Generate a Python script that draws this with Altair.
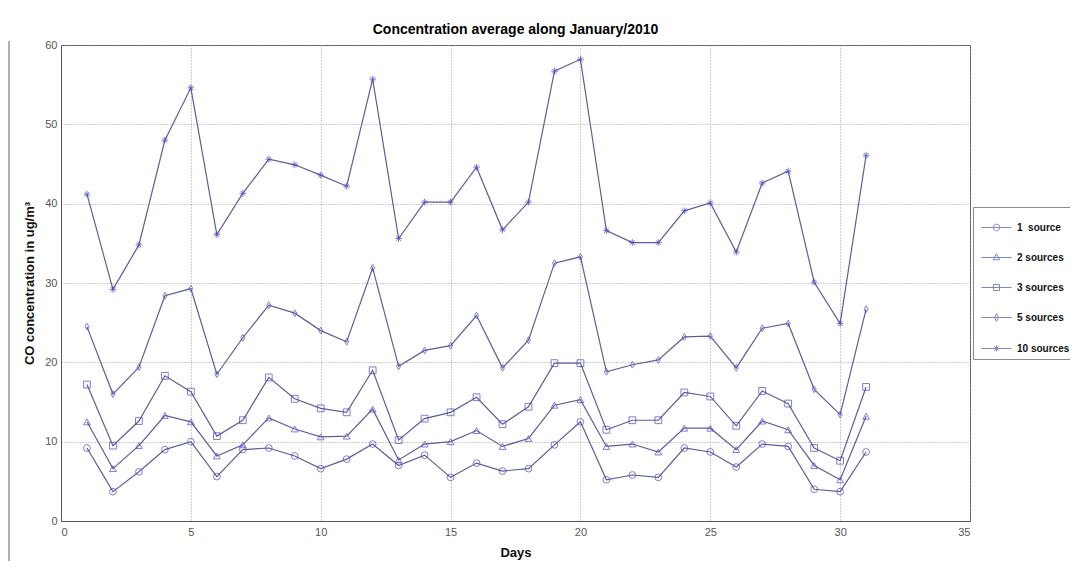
import altair as alt
import pandas as pd

days = list(range(1, 32))
series_names = ["1\u00a0\u00a0source", "2 sources", "3 sources", "5 sources", "10 sources"]

s1 = [9.2, 3.7, 6.2, 9.0, 10.0, 5.6, 9.0, 9.2, 8.2, 6.6, 7.8, 9.7, 7.0, 8.3, 5.5, 7.3,
      6.3, 6.6, 9.6, 12.5, 5.2, 5.8, 5.5, 9.2, 8.7, 6.8, 9.7, 9.4, 4.0, 3.7, 8.7]
s2 = [12.5, 6.6, 9.5, 13.3, 12.5, 8.2, 9.6, 13.0, 11.6, 10.6, 10.7, 14.1, 7.7, 9.7, 10.0, 11.4,
      9.4, 10.4, 14.6, 15.3, 9.4, 9.7, 8.7, 11.7, 11.7, 9.0, 12.6, 11.5, 7.0, 5.2, 13.2]
s3 = [17.2, 9.5, 12.6, 18.3, 16.3, 10.7, 12.7, 18.1, 15.4, 14.2, 13.7, 19.0, 10.2, 12.9, 13.7, 15.6,
      12.2, 14.4, 19.9, 19.9, 11.5, 12.7, 12.7, 16.2, 15.7, 12.0, 16.4, 14.8, 9.2, 7.6, 16.9]
s5 = [24.5, 16.0, 19.4, 28.4, 29.3, 18.5, 23.1, 27.2, 26.2, 24.0, 22.6, 31.9, 19.5, 21.5, 22.1, 25.9,
      19.3, 22.8, 32.5, 33.3, 18.8, 19.7, 20.3, 23.2, 23.3, 19.3, 24.3, 24.9, 16.6, 13.4, 26.7]
s10 = [41.2, 29.2, 34.8, 48.0, 54.6, 36.1, 41.3, 45.6, 44.9, 43.6, 42.2, 55.7, 35.6, 40.2, 40.2, 44.6,
       36.7, 40.2, 56.7, 58.2, 36.6, 35.1, 35.1, 39.1, 40.1, 33.9, 42.6, 44.1, 30.1, 24.9, 46.1]

x_ticks = [0, 5, 10, 15, 20, 25, 30, 35]
y_ticks = [0, 10, 20, 30, 40, 50, 60]

rows = []
for name, vals in zip(series_names, [s1, s2, s3, s5, s10]):
    for d, v in zip(days, vals):
        rows.append({"day": d, "value": v, "series": name})
df = pd.DataFrame(rows)

LINE = "#5d5d9c"
MARK = "#4646c8"

plot_shapes = [
    "circle",
    "triangle-up",
    "square",
    "M0,-1L0.6,0L0,1L-0.6,0Z",
    "M-1,0H1M0,-1V1M-0.7,-0.7L0.7,0.7M-0.7,0.7L0.7,-0.7",
]
legend_shapes = [
    "M-1,0H1M0.22,0A0.22,0.22,0,1,1,-0.22,0A0.22,0.22,0,1,1,0.22,0",
    "M-1,0H1M0,-0.25L0.22,0.15L-0.22,0.15Z",
    "M-1,0H1M-0.2,-0.2H0.2V0.2H-0.2Z",
    "M-1,0H1M0,-0.26L0.13,0L0,0.26L-0.13,0Z",
    "M-1,0H1M0,-0.2V0.2M-0.15,-0.15L0.15,0.15M-0.15,0.15L0.15,-0.15",
]

x_enc = alt.X("day:Q", scale=alt.Scale(domain=[0, 35], nice=False),
              axis=alt.Axis(values=x_ticks, title="Days", format="d"))
y_enc = alt.Y("value:Q", scale=alt.Scale(domain=[0, 60], nice=False),
              axis=alt.Axis(values=y_ticks, title="CO concentration in ug/m\u00b3", format="d"))

base = alt.Chart(df)

lines = base.mark_line(color=LINE, strokeWidth=1.2).encode(
    x=x_enc, y=y_enc, detail="series:N"
)

points = base.mark_point(color=MARK, filled=False, strokeWidth=1, size=46).encode(
    x=x_enc, y=y_enc,
    shape=alt.Shape("series:N", sort=series_names,
                    scale=alt.Scale(domain=series_names, range=plot_shapes), legend=None),
)

legend_layer = base.mark_point(color="#4f4fb4", filled=False, strokeWidth=1, size=0).encode(
    x=x_enc, y=y_enc,
    shape=alt.Shape("series:N", sort=series_names,
                    scale=alt.Scale(domain=series_names, range=legend_shapes),
                    legend=alt.Legend(title=None, orient="none", legendX=912, legendY=162,
                                      padding=5, symbolSize=900, symbolOffset=3,
                                      labelOffset=5, rowPadding=9,
                                      strokeColor="#8a8a8a", fillColor="white",
                                      labelFont="Liberation Sans",
                                      labelFontSize=10,
                                      labelFontWeight="bold", labelColor="#111",
                                      labelLimit=60,
                                      symbolStrokeWidth=1)),
)

border_df = pd.DataFrame({"a": [0]})
left_border = alt.Chart(border_df).mark_rule(color="#b0b0b0", strokeWidth=2).encode(
    x=alt.value(-52), y=alt.value(-4), y2=alt.value(516)
)

chart = alt.layer(lines, points, legend_layer, left_border).resolve_scale(
    shape="independent"
).properties(
    width=909, height=476,
    autosize=alt.AutoSizeParams(type="none"),
    padding={"left": 53, "top": 37, "right": 100, "bottom": 40},
    title=alt.Title("Concentration average along January/2010", fontSize=14,
                    font="Liberation Sans", fontWeight="bold", color="black",
                    anchor="middle", offset=2, frame="group"),
).configure_view(
    stroke="#555555", strokeWidth=1
).configure_axis(
    grid=True, gridColor="#9a9a9a", gridDash=[1, 2], gridWidth=1,
    domainColor="#555555", domainWidth=1, ticks=False,
    labelFont="Liberation Sans", labelFontSize=11, labelColor="#555555",
    titleFont="Liberation Sans", titleFontSize=13, titleFontWeight="bold", titleColor="#111",
).configure_axisX(
    labelPadding=5, titlePadding=9
).configure_axisY(
    labelPadding=4, titlePadding=8
)

chart.save("out.html", embed_options={"renderer": "svg", "actions": False})
